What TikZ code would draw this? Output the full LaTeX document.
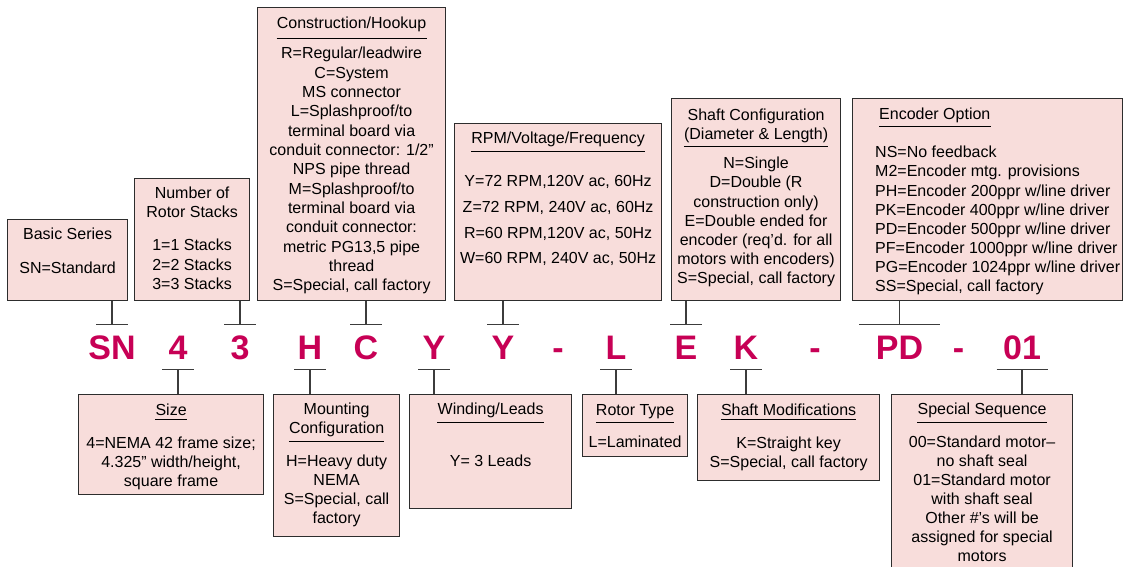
\documentclass[tikz,border=0pt]{standalone}
\usepackage{fontspec}
\setmainfont{Liberation Sans}
\definecolor{boxfill}{RGB}{248,221,219}
\definecolor{boxline}{RGB}{45,45,45}
\definecolor{codecol}{RGB}{199,0,85}
\definecolor{linkcol}{RGB}{60,60,60}
\tikzset{
  box/.style={draw=boxline, fill=boxfill, line width=1.2pt, inner sep=0pt, anchor=north west},
  txt/.style={font=\fontsize{16}{19.3}\selectfont, inner sep=0pt, align=center, anchor=north},
  code/.style={font=\fontsize{34}{34}\selectfont\bfseries, text=codecol, anchor=base,
    text height=24.5pt, text depth=0pt, inner xsep=0pt, inner ysep=10pt},
  link/.style={draw=linkcol, line width=1.2pt},
  rule/.style={draw=black, line width=1pt}
}
\newcommand\boxstrut{\rule{0pt}{12pt}}
\begin{document}
\begin{tikzpicture}[x=1pt,y=-1pt]
\useasboundingbox[fill=white] (0,0) rectangle (1125,567);

% boxes above the code
\node[box, minimum width=120, minimum height=81] (basic) at (7,219) {};
\node[box, minimum width=115, minimum height=122] (stacks) at (134,178) {};
\node[box, minimum width=188, minimum height=293] (hookup) at (257,7) {};
\node[box, minimum width=207, minimum height=177] (rpm) at (454,123) {};
\node[box, minimum width=169, minimum height=202] (shaftcfg) at (671,98) {};
\node[box, minimum width=270, minimum height=202] (encoder) at (852,98) {};

\node[txt] (basicT) at (basic.north |- 0,227) {\boxstrut Basic Series};
\node[txt] (basicB) at (basic.north |- 0,261) {\boxstrut SN=Standard};

\node[txt] (stacksT) at (stacks.north |- 0,186.5) {\boxstrut Number of\\Rotor Stacks};
\node[txt, font=\fontsize{16}{19.5}\selectfont] (stacksB) at (stacks.north |- 0,238.5)
  {\boxstrut 1=1 Stacks\\2=2 Stacks\\3=3 Stacks};

\node[txt] (hookupT) at (hookup.north |- 0,16.5) {\boxstrut Construction/Hookup};
\draw[rule] (hookupT.west |- 0,39) -- (hookupT.east |- 0,39);
\node[txt, font=\fontsize{16}{19.33}\selectfont] (hookupB) at (hookup.north |- 0,46.5)
  {\boxstrut R=Regular/leadwire\\C=System\\MS connector\\L=Splashproof/to\\terminal board via\\
   conduit connector: 1/2”\\NPS pipe thread\\M=Splashproof/to\\terminal board via\\
   conduit connector:\\metric PG13,5 pipe\\thread\\S=Special, call factory};

\node[txt] (rpmT) at (rpm.north |- 0,131.5) {\boxstrut RPM/Voltage/Frequency};
\draw[rule] (rpmT.west |- 0,152) -- (rpmT.east |- 0,152);
\node[txt, font=\fontsize{16}{25.7}\selectfont] (rpmB) at (rpm.north |- 0,174.5)
  {\boxstrut Y=72 RPM,120V ac, 60Hz\\Z=72 RPM, 240V ac, 60Hz\\R=60 RPM,120V ac, 50Hz\\W=60 RPM, 240V ac, 50Hz};

\node[txt] (shaftcfgT) at (shaftcfg.north |- 0,108) {\boxstrut Shaft Configuration\\(Diameter \& Length)};
\draw[rule] (shaftcfgT.west |- 0,147) -- (shaftcfgT.east |- 0,147);
\node[txt, font=\fontsize{16}{19.2}\selectfont] (shaftcfgB) at (shaftcfg.north |- 0,156.5)
  {\boxstrut N=Single\\D=Double (R\\construction only)\\E=Double ended for\\
   encoder (req’d. for all\\motors with encoders)\\S=Special, call factory};

\node[txt, anchor=north west] (encoderT) at (879,107) {\boxstrut Encoder Option};
\draw[rule] (encoderT.west |- 0,127) -- (encoderT.east |- 0,127);
\node[txt, anchor=north west, align=left, font=\fontsize{16}{19.15}\selectfont] (encoderB) at (875,145.5)
  {\boxstrut NS=No feedback\\M2=Encoder mtg. provisions\\PH=Encoder 200ppr w/line driver\\
   PK=Encoder 400ppr w/line driver\\PD=Encoder 500ppr w/line driver\\
   PF=Encoder 1000ppr w/line driver\\PG=Encoder 1024ppr w/line driver\\SS=Special, call factory};

% the code
\node[code] (sn) at (112,359) {SN};
\node[code] (four) at (178,359) {4};
\node[code] (three) at (240,359) {3};
\node[code] (hh) at (310,359) {H};
\node[code] (cc) at (366,359) {C};
\node[code] (ya) at (434,359) {Y};
\node[code] (yb) at (503,359) {Y};
\node[code] (da) at (558,359) {-};
\node[code] (ll) at (616,359) {L};
\node[code] (ee) at (686,359) {E};
\node[code] (kk) at (746,359) {K};
\node[code] (db) at (815,359) {-};
\node[code] (pd) at (899.5,359) {PD};
\node[code] (dc) at (958.5,359) {-};
\node[code] (zo) at (1022,359) {01};

% boxes below the code
\node[box, minimum width=185, minimum height=100] (size) at (78,394) {};
\node[box, minimum width=126, minimum height=142] (mount) at (273,394) {};
\node[box, minimum width=162, minimum height=114] (winding) at (409,394) {};
\node[box, minimum width=105, minimum height=62] (rotor) at (582,394) {};
\node[box, minimum width=182, minimum height=86] (shaftmod) at (697,394) {};
\node[box, minimum width=181, minimum height=185] (special) at (891,394) {};

\node[txt] (sizeT) at (size.north |- 0,403.5) {\boxstrut Size};
\draw[rule] (sizeT.west |- 0,419) -- (sizeT.east |- 0,419);
\node[txt, font=\fontsize{16}{19}\selectfont] (sizeB) at (size.north |- 0,436.5)
  {\boxstrut 4=NEMA 42 frame size;\\4.325” width/height,\\square frame};

\node[txt, font=\fontsize{16}{19}\selectfont] (mountT) at (mount.north |- 0,402.5) {\boxstrut Mounting\\Configuration};
\draw[rule] (mountT.west |- 0,441) -- (mountT.east |- 0,441);
\node[txt, font=\fontsize{16}{19}\selectfont] (mountB) at (mount.north |- 0,454.5)
  {\boxstrut H=Heavy duty\\NEMA\\S=Special, call\\factory};

\node[txt] (windingT) at (winding.north |- 0,402.5) {\boxstrut Winding/Leads};
\draw[rule] (windingT.west |- 0,422) -- (windingT.east |- 0,422);
\node[txt] (windingB) at (winding.north |- 0,454.5) {\boxstrut Y= 3 Leads};

\node[txt] (rotorT) at (rotor.north |- 0,403.5) {\boxstrut Rotor Type};
\draw[rule] (rotorT.west |- 0,422) -- (rotorT.east |- 0,422);
\node[txt] (rotorB) at (rotor.north |- 0,435.5) {\boxstrut L=Laminated};

\node[txt] (shaftmodT) at (shaftmod.north |- 0,403.5) {\boxstrut Shaft Modifications};
\draw[rule] (shaftmodT.west |- 0,419) -- (shaftmodT.east |- 0,419);
\node[txt, font=\fontsize{16}{19}\selectfont] (shaftmodB) at (shaftmod.north |- 0,436.5)
  {\boxstrut K=Straight key\\S=Special, call factory};

\node[txt] (specialT) at (special.north |- 0,402.5) {\boxstrut Special Sequence};
\draw[rule] (specialT.west |- 0,422) -- (specialT.east |- 0,422);
\node[txt, font=\fontsize{16}{19}\selectfont] (specialB) at (special.north |- 0,435.5)
  {\boxstrut 00=Standard motor–\\no shaft seal\\01=Standard motor\\with shaft seal\\
   Other \#’s will be\\assigned for special\\motors};

% links from the boxes to the code
\foreach \b/\c/\w in {basic/sn/16, stacks/three/16, hookup/cc/16, rpm/yb/16, shaftcfg/ee/16, encoder/pd/40.5}{
  \draw[link] (\b.south -| \c.north) -- (\c.north);
  \draw[link] ([xshift=-\w]\c.north) -- ([xshift=\w]\c.north);
}
\foreach \b/\c/\w in {size/four/16, mount/hh/16, winding/ya/16, rotor/ll/16, shaftmod/kk/16, special/zo/25.5}{
  \draw[link] (\b.north -| \c.south) -- (\c.south);
  \draw[link] ([xshift=-\w]\c.south) -- ([xshift=\w]\c.south);
}
\end{tikzpicture}
\end{document}
